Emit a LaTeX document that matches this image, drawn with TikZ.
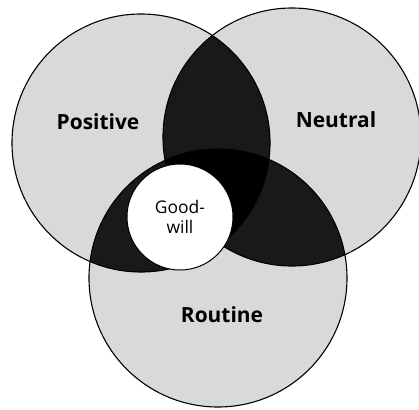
\documentclass[tikz,border=0pt]{standalone}
\usepackage{fontspec}
\setmainfont{Open Sans}
\usetikzlibrary{positioning}

\begin{document}
\begin{tikzpicture}[x=1bp,y=-1bp,set/.style={fill=black!15},pair/.style={fill=black!90},rim/.style={draw,line width=1.1pt},lbl/.style={font=\bfseries\fontsize{21}{23}\selectfont},gw/.style={circle,draw,line width=1pt,fill=white,minimum size=106bp,inner sep=0pt,align=center,font=\fontsize{17.5}{20}\selectfont}]
\useasboundingbox (0,0) rectangle (419,410);
\coordinate (pos) at (141,143);
\coordinate (neu) at (292,137);
\coordinate (rou) at (218,278);
% base discs
\foreach \c in {pos,neu,rou}{\path[set] (\c) circle[radius=129bp];}
% pairwise overlaps
\begin{scope}\clip (pos) circle[radius=129bp];\path[pair] (neu) circle[radius=129bp];\path[pair] (rou) circle[radius=129bp];\end{scope}
\begin{scope}\clip (neu) circle[radius=129bp];\path[pair] (rou) circle[radius=129bp];\end{scope}
% all three
\begin{scope}\clip (pos) circle[radius=129bp];\clip (neu) circle[radius=129bp];\fill[black] (rou) circle[radius=129bp];\end{scope}
\foreach \c in {pos,neu,rou}{\path[rim] (\c) circle[radius=129bp];}
\node[gw] (good) at (180,217) {Good-\\will};
\node[lbl] (lpos) at (98,122) {Positive};
\node[lbl] (lneu) at (336,120) {Neutral};
\node[lbl] (lrou) at (222,315) {Routine};
\end{tikzpicture}
\end{document}
